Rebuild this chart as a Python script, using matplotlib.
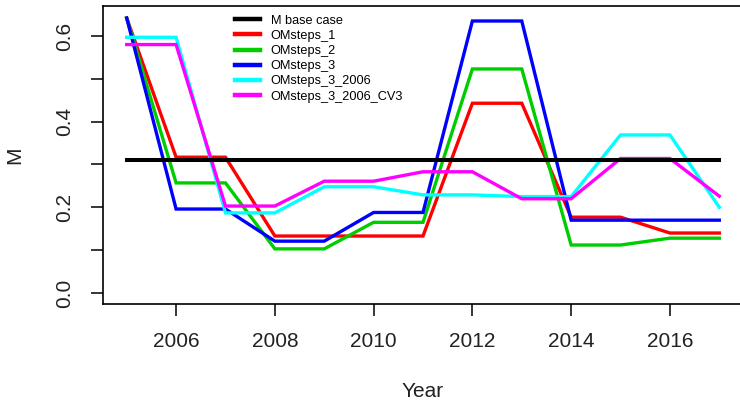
import matplotlib
matplotlib.use("Agg")
import matplotlib.pyplot as plt

# natural mortality M by year for each operating model step
years = list(range(2005, 2018))
m_base = 0.31

om_steps_1 = [0.642, 0.317, 0.317, 0.133, 0.133, 0.133, 0.133, 0.443, 0.443, 0.177, 0.177, 0.14, 0.14]
om_steps_2 = [0.642, 0.257, 0.257, 0.103, 0.103, 0.165, 0.165, 0.523, 0.523, 0.112, 0.112, 0.128, 0.128]
om_steps_3 = [0.642, 0.196, 0.196, 0.121, 0.121, 0.188, 0.188, 0.635, 0.635, 0.17, 0.17, 0.17, 0.17]
om_steps_3_2006 = [0.597, 0.597, 0.187, 0.187, 0.248, 0.248, 0.229, 0.229, 0.225, 0.225, 0.369, 0.369, 0.2]
om_steps_3_2006_cv3 = [0.58, 0.58, 0.203, 0.203, 0.261, 0.261, 0.283, 0.283, 0.22, 0.22, 0.314, 0.314, 0.226]

series = [
    ("OMsteps_1", om_steps_1, "#FF0000"),
    ("OMsteps_2", om_steps_2, "#00CD00"),
    ("OMsteps_3", om_steps_3, "#0000FF"),
    ("OMsteps_3_2006", om_steps_3_2006, "#00FFFF"),
    ("OMsteps_3_2006_CV3", om_steps_3_2006_cv3, "#FF00FF"),
]

plt.rcParams["font.family"] = ["Liberation Sans", "DejaVu Sans"]

fig = plt.figure(figsize=(7.4, 4.04), dpi=100)
ax = fig.add_axes([103 / 740, 1 - 304 / 404, 640 / 740, 298 / 404])

lines = []
for name, vals, col in series:
    ln, = ax.plot(years, vals, color=col, lw=2.4, label=name, solid_joinstyle="miter")
    lines.append(ln)
base, = ax.plot([years[0], years[-1]], [m_base, m_base], color="black", lw=2.9,
                label="M base case")

ax.set_xlim(2004.52, 2017.48)
ax.set_ylim(-0.0257, 0.670)
ax.set_xticks(range(2006, 2017, 2))
ax.set_yticks([0.0, 0.1, 0.2, 0.3, 0.4, 0.5, 0.6])
ax.set_yticklabels(["0.0", "", "0.2", "", "0.4", "", "0.6"], rotation=90, va="center")
ax.tick_params(direction="out", length=8.5, width=1.1, labelsize=15, pad=12,
               colors="black", labelcolor="#222222")
for sp in ax.spines.values():
    sp.set_linewidth(1.2)

ax.set_xlabel("Year", fontsize=15, color="#222222", va="center")
ax.xaxis.set_label_coords(0.5, -0.295)
ax.set_ylabel("M", fontsize=15, color="#222222", va="center")
ax.yaxis.set_label_coords(-0.1375, 0.5)

leg = ax.legend([base] + lines, ["M base case"] + [s[0] for s in series],
                loc="upper left", bbox_to_anchor=(0.206, 0.971), frameon=False,
                fontsize=9.2, handlelength=2.0, handletextpad=0.8, labelspacing=0.25,
                borderpad=0, borderaxespad=0)
for h in leg.legend_handles:
    h.set_linewidth(3.2)

fig.savefig("out.png", dpi=100)
